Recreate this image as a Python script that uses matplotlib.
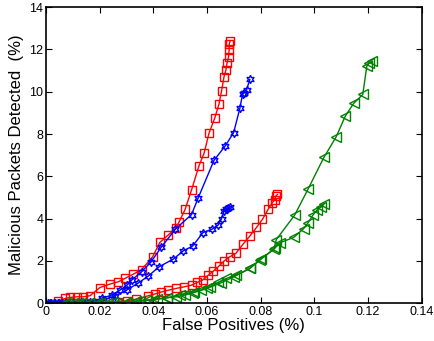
import numpy as np
import matplotlib
matplotlib.use('Agg')
import matplotlib.pyplot as plt
from matplotlib.ticker import FormatStrFormatter

plt.rcParams['font.family'] = ['Liberation Sans', 'DejaVu Sans']

# red, upper curve
red1_x = [0.0045, 0.0071, 0.0089, 0.0114, 0.0139, 0.0164, 0.0201, 0.0238, 0.0269, 0.0294, 0.0325,
          0.0356, 0.0397, 0.0424, 0.0455, 0.0484, 0.0496, 0.0518, 0.0542, 0.0570, 0.0589,
          0.0607, 0.0629, 0.0644, 0.0654, 0.0663, 0.0670, 0.0674, 0.0680, 0.0682, 0.0683, 0.0686]
red1_y = [0.08, 0.22, 0.27, 0.30, 0.30, 0.35, 0.74, 0.90, 1.01, 1.17, 1.37,
          1.59, 2.19, 2.87, 3.22, 3.55, 3.85, 4.43, 5.35, 6.50, 7.10,
          8.03, 8.77, 9.40, 10.04, 10.70, 11.02, 11.34, 11.65, 11.97, 12.28, 12.41]

# red, lower curve
red2_x = [0.0100, 0.0140, 0.0180, 0.0220, 0.0263, 0.0300, 0.0337, 0.0381, 0.0405, 0.0430,
          0.0455, 0.0486, 0.0514, 0.0542, 0.0563, 0.0583, 0.0604, 0.0622, 0.0644, 0.0663,
          0.0684, 0.0707, 0.0734, 0.0759, 0.0784, 0.0806, 0.0827, 0.0843, 0.0852, 0.0856, 0.0862]
red2_y = [0.00, 0.00, 0.02, 0.04, 0.06, 0.11, 0.19, 0.35, 0.43, 0.53,
          0.61, 0.70, 0.77, 0.85, 0.98, 1.09, 1.32, 1.50, 1.75, 1.99,
          2.19, 2.35, 2.79, 3.17, 3.58, 3.96, 4.43, 4.75, 4.90, 5.06, 5.14]

# blue, upper curve
blue1_x = [0.0009, 0.0020, 0.0033, 0.0045, 0.0060, 0.0080, 0.0100, 0.0130, 0.0164, 0.0207,
           0.0244, 0.0275, 0.0302, 0.0319, 0.0356, 0.0391, 0.0430, 0.0482, 0.0542, 0.0567,
           0.0626, 0.0668, 0.0699, 0.0722, 0.0732, 0.0738, 0.0747, 0.0759]
blue1_y = [0.01, 0.01, 0.02, 0.02, 0.02, 0.03, 0.03, 0.04, 0.06, 0.22,
           0.38, 0.61, 0.85, 1.09, 1.48, 1.95, 2.66, 3.50, 4.19, 4.98,
           6.76, 7.44, 8.07, 9.21, 9.87, 9.95, 10.08, 10.58]

# blue, lower curve
blue2_x = [0.0015, 0.0030, 0.0050, 0.0070, 0.0100, 0.0140, 0.0180, 0.0213, 0.0257, 0.0300,
           0.0341, 0.0381, 0.0421, 0.0474, 0.0511, 0.0546, 0.0585, 0.0619, 0.0641, 0.0654,
           0.0663, 0.0672, 0.0678, 0.0684]
blue2_y = [0.00, 0.00, 0.01, 0.01, 0.02, 0.03, 0.06, 0.14, 0.35, 0.61,
           0.93, 1.28, 1.72, 2.08, 2.47, 2.70, 3.34, 3.50, 3.69, 4.00,
           4.35, 4.43, 4.48, 4.56]

# green, upper curve
green1_x = [0.0080, 0.0120, 0.0160, 0.0200, 0.0250, 0.0300, 0.0350, 0.0400, 0.0450, 0.0500,
            0.0550, 0.0600, 0.0650, 0.0700, 0.0759, 0.0802, 0.0848, 0.0858, 0.0926, 0.0976,
            0.1035, 0.1081, 0.1115, 0.1146, 0.1180, 0.1195, 0.1205, 0.1215]
green1_y = [0.00, 0.00, 0.01, 0.02, 0.04, 0.07, 0.11, 0.17, 0.25, 0.40,
            0.52, 0.70, 0.95, 1.25, 1.64, 2.11, 2.54, 3.01, 4.16, 5.39,
            6.89, 7.87, 8.85, 9.45, 9.87, 11.21, 11.37, 11.45]

# green, lower curve
green2_x = [0.0070, 0.0100, 0.0130, 0.0160, 0.0190, 0.0226, 0.0263, 0.0300, 0.0337, 0.0375,
            0.0412, 0.0449, 0.0486, 0.0517, 0.0548, 0.0579, 0.0610, 0.0641, 0.0672, 0.0709,
            0.0759, 0.0796, 0.0852, 0.0870, 0.0923, 0.0960, 0.0976, 0.0994, 0.1009, 0.1026, 0.1034]
green2_y = [0.00, 0.00, 0.00, 0.00, 0.01, 0.01, 0.03, 0.06, 0.09, 0.14,
            0.19, 0.25, 0.30, 0.38, 0.49, 0.61, 0.77, 0.98, 1.17, 1.32,
            1.64, 2.03, 2.59, 2.85, 3.11, 3.53, 3.80, 4.16, 4.40, 4.56, 4.67]

fig = plt.figure(figsize=(4.34, 3.41), dpi=100)
ax = fig.add_axes([0.106, 0.111, 0.866, 0.868])

green = (0, 0.5, 0)
kw = dict(lw=1.0, mfc='none', mew=1.0)
ax.plot(red1_x, red1_y, '-s', color='r', ms=5.5, **kw)
ax.plot(red2_x, red2_y, '-s', color='r', ms=5.5, **kw)
ax.plot(blue1_x, blue1_y, '-', color='b', marker=(6, 1, 0), ms=6, **kw)
ax.plot(blue2_x, blue2_y, '-', color='b', marker=(6, 1, 0), ms=6, **kw)
ax.plot(green1_x, green1_y, '-<', color=green, ms=6.5, **kw)
ax.plot(green2_x, green2_y, '-<', color=green, ms=6.5, **kw)

ax.set_xlim(0, 0.14)
ax.set_ylim(0, 14)
ax.set_xticks(np.arange(0, 0.141, 0.02))
ax.set_yticks(np.arange(0, 15, 2))
ax.xaxis.set_major_formatter(FormatStrFormatter('%g'))
ax.tick_params(direction='in', top=True, right=True, labelsize=9, length=4, pad=2)
for s in ax.spines.values():
    s.set_linewidth(1.2)

ax.set_xlabel('False Positives (%)', fontsize=12, labelpad=0)
ax.set_ylabel('Malicious Packets Detected  (%)', fontsize=12, labelpad=4)

fig.savefig('out.png', dpi=100)
